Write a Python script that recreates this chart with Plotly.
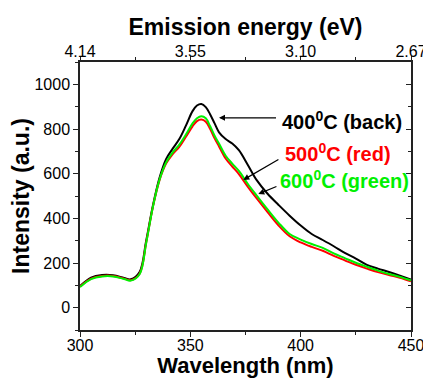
import plotly.graph_objects as go

wavelength = [300, 305, 310, 315, 320, 323, 327, 330, 333, 336, 339, 342, 345, 348, 351, 353, 355, 357, 359, 361,
              363, 366, 369, 372, 376, 380, 385, 390, 395, 400, 405, 410, 415, 420, 425, 430, 435, 440, 445, 450]
int_400 = [96, 134, 146, 145, 133, 127, 160, 300, 455, 580, 665, 712, 755, 815, 880, 905, 912, 898, 865, 825,
           785, 755, 735, 705, 640, 572, 510, 460, 412, 368, 330, 303, 275, 245, 220, 192, 175, 160, 143, 126]
int_500 = [94, 130, 142, 142, 130, 123, 152, 292, 450, 570, 645, 688, 720, 765, 812, 835, 842, 833, 800, 758,
           722, 668, 632, 598, 542, 490, 428, 368, 320, 292, 272, 255, 232, 212, 192, 175, 159, 146, 134, 118]
int_600 = [92, 128, 140, 140, 128, 121, 150, 290, 450, 572, 650, 695, 730, 775, 825, 848, 857, 848, 812, 770,
           735, 680, 645, 612, 555, 503, 440, 380, 330, 305, 285, 268, 243, 222, 201, 183, 166, 151, 138, 122]

x_ticks = [300, 350, 400, 450]
energy_labels = ["4.14", "3.55", "3.10", "2.67"]
y_ticks = [0, 200, 400, 600, 800, 1000]

FONT = "Liberation Sans, Arial, sans-serif"
GREEN = "#00f000"

fig = go.Figure()
fig.add_trace(go.Scatter(x=wavelength, y=int_400, mode="lines", line=dict(color="#000000", width=2, shape="spline"), showlegend=False))
fig.add_trace(go.Scatter(x=wavelength, y=int_500, mode="lines", line=dict(color="#ff0000", width=2, shape="spline"), showlegend=False))
fig.add_trace(go.Scatter(x=wavelength, y=int_600, mode="lines", line=dict(color=GREEN, width=2, shape="spline"), showlegend=False))
# invisible trace to activate top / right axes
fig.add_trace(go.Scatter(x=[300, 450], y=[0, 0], xaxis="x2", yaxis="y2", mode="lines",
                         line=dict(width=0), opacity=0, hoverinfo="skip", showlegend=False))

axis_common = dict(showgrid=False, zeroline=False, showline=True, linecolor="#222", linewidth=1.5,
                   tickcolor="#222", tickwidth=1.2, automargin=False,
                   tickfont=dict(family=FONT, size=16, color="#000"))
title_font = dict(family=FONT, size=23, color="#000")

# the page body has an 8 px margin, so the figure is sized/margined to compensate
fig.update_layout(
    width=423, height=370,
    margin=dict(l=72, r=20, t=54, b=48),
    paper_bgcolor="white", plot_bgcolor="white",
    xaxis=dict(range=[300, 450], tickvals=x_ticks, ticks="outside", ticklen=5, ticklabelstandoff=-5,
               minor=dict(dtick=25, tick0=300, ticks="outside", ticklen=3, tickcolor="#222"),
               title=dict(text="<b>Wavelength (nm)</b>", font=dict(family=FONT, size=22, color="#000"), standoff=3),
               **axis_common),
    yaxis=dict(range=[-100, 1100], tickvals=y_ticks, ticks="outside", ticklen=5,
               minor=dict(dtick=100, tick0=0, ticks="outside", ticklen=3, tickcolor="#222"),
               title=dict(text="<b>Intensity (a.u.)</b>", font=title_font, standoff=0),
               **axis_common),
    xaxis2=dict(range=[300, 450], overlaying="x", side="top", tickvals=x_ticks, ticktext=energy_labels,
                ticks="outside", ticklen=4, ticklabelstandoff=-7,
                minor=dict(dtick=25, tick0=300, ticks="outside", ticklen=3, tickcolor="#222"),
                title=dict(text="<b>Emission energy (eV)</b>", font=title_font, standoff=1),
                **axis_common),
    yaxis2=dict(range=[-100, 1100], overlaying="y", side="right", tickvals=y_ticks, showticklabels=False,
                ticks="inside", ticklen=5,
                minor=dict(dtick=100, tick0=0, ticks="inside", ticklen=3, tickcolor="#222"),
                **axis_common),
)

arrows = [
    dict(x=363, y=850, ax=389.5, ay=850),
    dict(x=374, y=572, ax=390.6, ay=667),
    dict(x=380.8, y=509, ax=389.7, ay=545),
]
for a in arrows:
    fig.add_annotation(x=a["x"], y=a["y"], ax=a["ax"], ay=a["ay"], xref="x", yref="y", axref="x", ayref="y",
                       text="", showarrow=True, arrowhead=2, arrowsize=1, arrowwidth=1.2, arrowcolor="#000")

labels = [
    ("<b>400<sup>0</sup>C (back)</b>", 390.6, 837, "#000000"),
    ("<b>500<sup>0</sup>C (red)</b>", 392.1, 694, "#ff0000"),
    ("<b>600<sup>0</sup>C (green)</b>", 389.9, 572, GREEN),
]
for txt, x, y, col in labels:
    fig.add_annotation(x=x, y=y, xref="x", yref="y", text=txt, showarrow=False, xanchor="left", yanchor="middle",
                       font=dict(family=FONT, size=20, color=col))

fig.write_html("out.html")
